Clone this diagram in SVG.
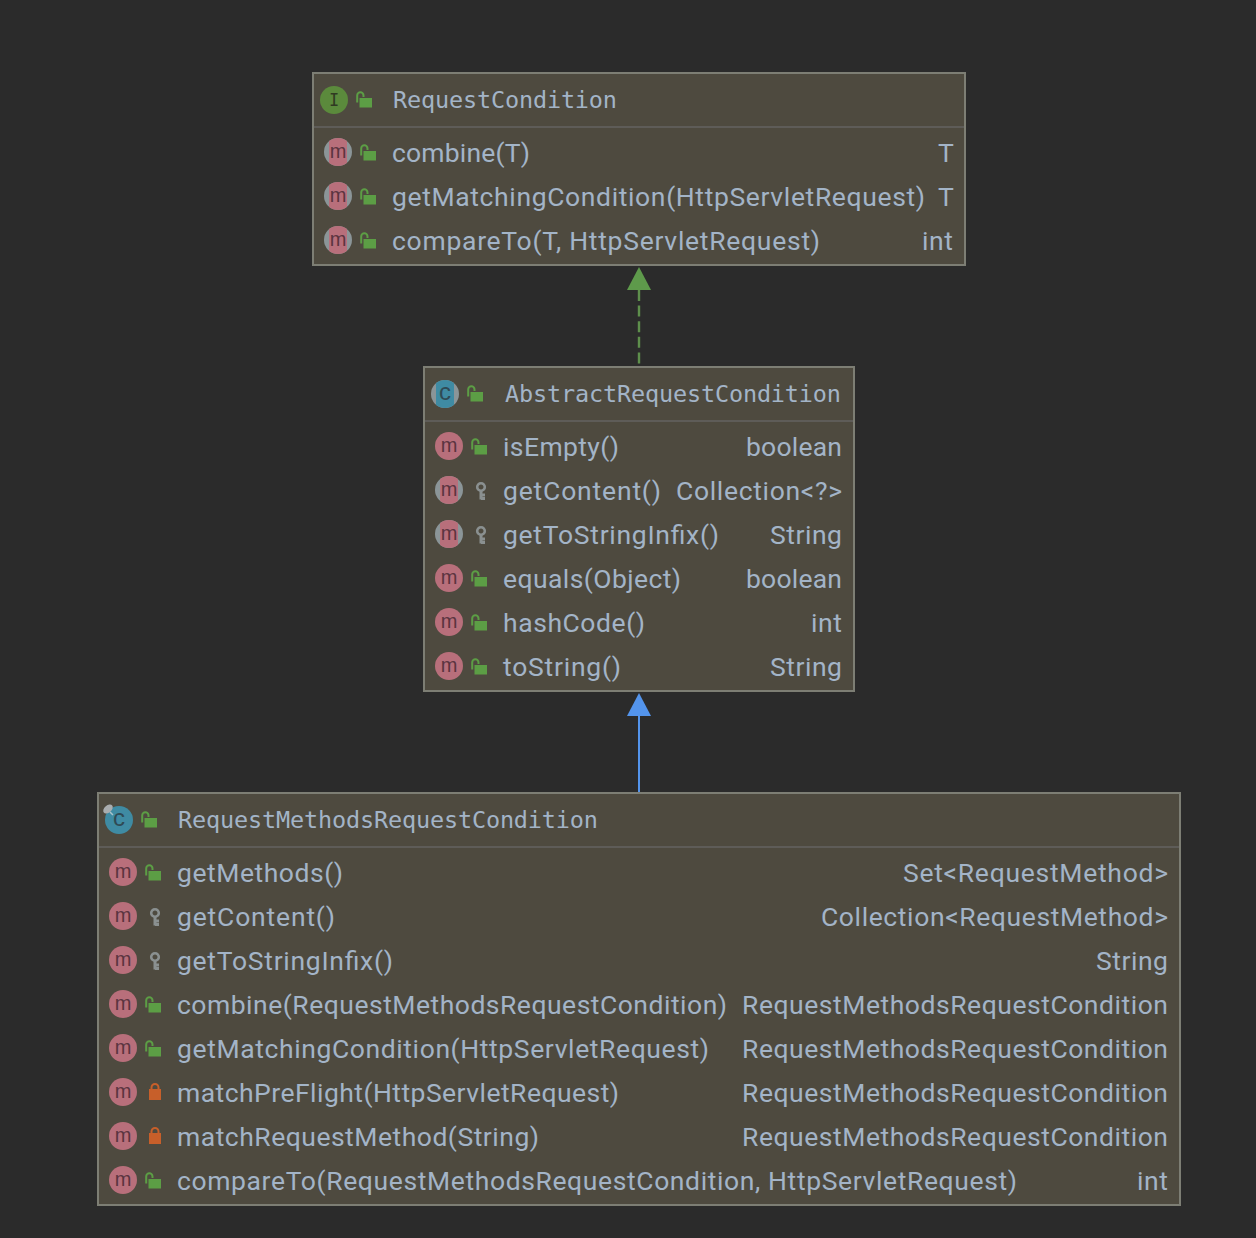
<svg xmlns="http://www.w3.org/2000/svg" width="1256" height="1238" viewBox="0 0 1256 1238">
<style>
.box{fill:#4e4a3f;stroke:#7d7e74;stroke-width:2}
.sep{stroke:#5e5c58;stroke-width:2}
.h{font-family:"DejaVu Sans Mono",monospace;font-size:23.5px;fill:#a3b4c7}
.t{font-family:"Roboto","Liberation Sans",sans-serif;font-size:26.5px;fill:#a3b4c7}
.ic{font-family:"Liberation Sans","DejaVu Sans",sans-serif;font-size:20px;fill:#5b3440;text-anchor:middle;transform:translateY(-2px)}
.ci{fill:#2f4a55;font-size:24px}
.ii{font-family:"DejaVu Sans Mono",monospace;font-size:17px;fill:#2f3a22;text-anchor:middle}
</style>
<defs>
<clipPath id="band"><rect x="-9" y="-14" width="18" height="28"/></clipPath>
<clipPath id="bandc"><rect x="436" y="380" width="18" height="28"/></clipPath>
<g id="mi"><circle r="14" fill="#b86f7b"/></g>
<g id="ma"><circle r="14" fill="#8b9598"/><circle r="14" fill="#b86f7b" clip-path="url(#band)"/></g>
<g id="open"><rect x="0" y="0" width="12.5" height="9.5" fill="#5c9e45"/><path d="M-2.3 4.5V-2.5A3.15 3.15 0 0 1 4 -2.5V-1" fill="none" stroke="#5c9e45" stroke-width="2"/></g>
<g id="closed"><rect x="0" y="0" width="12" height="11" fill="#c75f2a"/><path d="M2.5 1V-1.5A3.5 3.5 0 0 1 9.5 -1.5V1" fill="none" stroke="#c75f2a" stroke-width="2"/></g>
<g id="key"><circle cx="0" cy="0" r="3.8" fill="none" stroke="#8a9090" stroke-width="2.6"/><path d="M0 3V12.5M0 8H4M0 11.5H4" fill="none" stroke="#8a9090" stroke-width="3"/></g>
</defs>
<rect width="1256" height="1238" fill="#2b2b2b"/>
<g id="connectors">
<path d="M639 290V367" fill="none" stroke="#5e8f4c" stroke-width="2.4" stroke-dasharray="11 4.6"/>
<polygon points="639,267 651,290 627,290" fill="#5e9a4b"/>
<path d="M639 716V793" fill="none" stroke="#5394ec" stroke-width="2"/>
<polygon points="639,693 651,716 627,716" fill="#5394ec"/>
</g>
<g id="node-RequestCondition">
<rect class="box" x="313" y="73" width="652" height="192"/>
<path class="sep" d="M314 127H964"/>
<circle cx="334" cy="100" r="14" fill="#5b8a3c"/><text class="ii" x="334" y="106">I</text>
<use href="#open" x="359.5" y="98"/>
<text class="h" x="393" y="108" textLength="224">RequestCondition</text>
<use href="#ma" x="338" y="152"/><text class="ic" x="338" y="160">m</text><use href="#open" x="363.5" y="151"/>
<text class="t" x="392" y="162" textLength="138">combine(T)</text><text class="t" x="938" y="162" textLength="15">T</text>
<use href="#ma" x="338" y="196"/><text class="ic" x="338" y="204">m</text><use href="#open" x="363.5" y="195"/>
<text class="t" x="392" y="206" textLength="533">getMatchingCondition(HttpServletRequest)</text><text class="t" x="938" y="206" textLength="15">T</text>
<use href="#ma" x="338" y="240"/><text class="ic" x="338" y="248">m</text><use href="#open" x="363.5" y="239"/>
<text class="t" x="392" y="250" textLength="428">compareTo(T, HttpServletRequest)</text><text class="t" x="922" y="250" textLength="31">int</text>
</g>
<g id="node-AbstractRequestCondition">
<rect class="box" x="424" y="367" width="430" height="324"/>
<path class="sep" d="M425 421H853"/>
<circle cx="445" cy="394" r="14" fill="#8b9598"/><circle cx="445" cy="394" r="14" fill="#3f8ba3" clip-path="url(#bandc)"/>
<text class="ic ci" x="445" y="402">c</text>
<use href="#open" x="470.5" y="392"/>
<text class="h" x="505" y="402" textLength="336">AbstractRequestCondition</text>
<use href="#mi" x="449" y="446"/><text class="ic" x="449" y="454">m</text><use href="#open" x="474.5" y="445"/>
<text class="t" x="503" y="456" textLength="116">isEmpty()</text><text class="t" x="746" y="456" textLength="96">boolean</text>
<use href="#ma" x="449" y="490"/><text class="ic" x="449" y="498">m</text><use href="#key" x="481" y="487"/>
<text class="t" x="503" y="500" textLength="158">getContent()</text><text class="t" x="676" y="500" textLength="166">Collection&lt;?&gt;</text>
<use href="#ma" x="449" y="534"/><text class="ic" x="449" y="542">m</text><use href="#key" x="481" y="531"/>
<text class="t" x="503" y="544" textLength="216">getToStringInfix()</text><text class="t" x="770" y="544" textLength="72">String</text>
<use href="#mi" x="449" y="578"/><text class="ic" x="449" y="586">m</text><use href="#open" x="474.5" y="577"/>
<text class="t" x="503" y="588" textLength="178">equals(Object)</text><text class="t" x="746" y="588" textLength="96">boolean</text>
<use href="#mi" x="449" y="622"/><text class="ic" x="449" y="630">m</text><use href="#open" x="474.5" y="621"/>
<text class="t" x="503" y="632" textLength="142">hashCode()</text><text class="t" x="811" y="632" textLength="31">int</text>
<use href="#mi" x="449" y="666"/><text class="ic" x="449" y="674">m</text><use href="#open" x="474.5" y="665"/>
<text class="t" x="503" y="676" textLength="118">toString()</text><text class="t" x="770" y="676" textLength="72">String</text>
</g>
<g id="node-RequestMethodsRequestCondition">
<rect class="box" x="98" y="793" width="1082" height="412"/>
<path class="sep" d="M99 847H1179"/>
<circle cx="119" cy="820" r="14" fill="#3f8ba3"/>
<ellipse cx="108" cy="809" rx="5.5" ry="3.5" fill="#a9adaf" transform="rotate(-40 108 809)"/>
<path d="M110 812L113 815" stroke="#a9c4cc" stroke-width="1.5"/>
<text class="ic ci" x="119" y="828">c</text>
<use href="#open" x="144.5" y="818"/>
<text class="h" x="178" y="828" textLength="420">RequestMethodsRequestCondition</text>
<use href="#mi" x="123" y="872"/><text class="ic" x="123" y="880">m</text><use href="#open" x="148.5" y="871"/>
<text class="t" x="177" y="882" textLength="166">getMethods()</text><text class="t" x="903" y="882" textLength="265">Set&lt;RequestMethod&gt;</text>
<use href="#mi" x="123" y="916"/><text class="ic" x="123" y="924">m</text><use href="#key" x="155" y="913"/>
<text class="t" x="177" y="926" textLength="158">getContent()</text><text class="t" x="821" y="926" textLength="347">Collection&lt;RequestMethod&gt;</text>
<use href="#mi" x="123" y="960"/><text class="ic" x="123" y="968">m</text><use href="#key" x="155" y="957"/>
<text class="t" x="177" y="970" textLength="216">getToStringInfix()</text><text class="t" x="1096" y="970" textLength="72">String</text>
<use href="#mi" x="123" y="1004"/><text class="ic" x="123" y="1012">m</text><use href="#open" x="148.5" y="1003"/>
<text class="t" x="177" y="1014" textLength="550">combine(RequestMethodsRequestCondition)</text><text class="t" x="742" y="1014" textLength="426">RequestMethodsRequestCondition</text>
<use href="#mi" x="123" y="1048"/><text class="ic" x="123" y="1056">m</text><use href="#open" x="148.5" y="1047"/>
<text class="t" x="177" y="1058" textLength="532">getMatchingCondition(HttpServletRequest)</text><text class="t" x="742" y="1058" textLength="426">RequestMethodsRequestCondition</text>
<use href="#mi" x="123" y="1092"/><text class="ic" x="123" y="1100">m</text><use href="#closed" x="149" y="1089"/>
<text class="t" x="177" y="1102" textLength="442">matchPreFlight(HttpServletRequest)</text><text class="t" x="742" y="1102" textLength="426">RequestMethodsRequestCondition</text>
<use href="#mi" x="123" y="1136"/><text class="ic" x="123" y="1144">m</text><use href="#closed" x="149" y="1133"/>
<text class="t" x="177" y="1146" textLength="362">matchRequestMethod(String)</text><text class="t" x="742" y="1146" textLength="426">RequestMethodsRequestCondition</text>
<use href="#mi" x="123" y="1180"/><text class="ic" x="123" y="1188">m</text><use href="#open" x="148.5" y="1179"/>
<text class="t" x="177" y="1190" textLength="840">compareTo(RequestMethodsRequestCondition, HttpServletRequest)</text><text class="t" x="1137" y="1190" textLength="31">int</text>
</g>
</svg>
